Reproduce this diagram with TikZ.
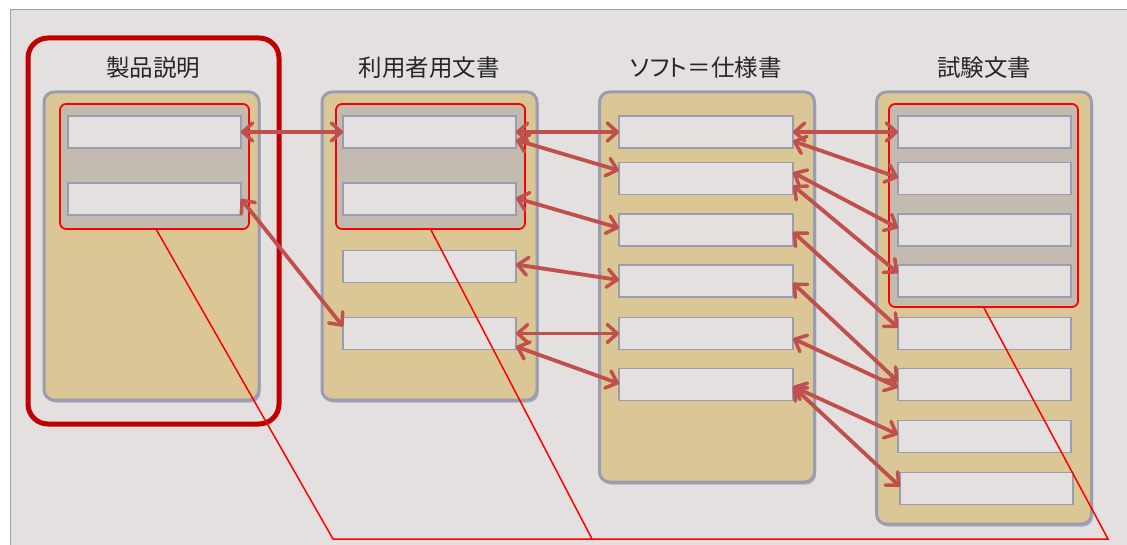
\documentclass[tikz,border=0pt]{standalone}
\usepackage{fontspec}
\newfontfamily\jp{Noto Sans CJK JP}
\newfontfamily\jpp[RawFeature=+palt]{Noto Sans CJK JP}
\usetikzlibrary{arrows.meta}
\definecolor{bg}{HTML}{E4E0DF}
\definecolor{frameg}{HTML}{A0A0A0}
\definecolor{tanc}{HTML}{DBC795}
\definecolor{pborder}{HTML}{9A9CB0}
\definecolor{grpc}{HTML}{C3BAB0}
\definecolor{darkred}{HTML}{C00000}
\definecolor{arr}{HTML}{C0504D}
\definecolor{txt}{HTML}{262626}
\begin{document}
\begin{tikzpicture}[x=1pt,y=-1pt,
 panel/.style={draw=pborder, line width=3pt, fill=tanc, rounded corners=10pt, inner sep=0pt, outer sep=0pt, minimum width=215pt},
 pshadow/.style={fill=pborder!85, rounded corners=10pt, inner sep=0pt, outer sep=0pt, minimum width=215pt, xshift=1.5pt, yshift=-2.5pt},
 grpbox/.style={draw=red, line width=1.8pt, fill=grpc, rounded corners=6pt, inner sep=0pt, outer sep=0pt, minimum width=189pt},
 item/.style={draw=pborder, line width=1.5pt, fill=bg, minimum width=173pt, minimum height=32pt, inner sep=0pt, outer sep=0pt},
 ttl/.style={text=txt, font=\jp\fontsize{23.5}{28}\selectfont, inner sep=0pt},
 link/.style={draw=arr, line width=3.8pt, {Straight Barb[length=10pt,width=18pt,line width=3.5pt,round]}-{Straight Barb[length=10pt,width=18pt,line width=3.5pt,round]}},
 redline/.style={draw=red, line width=1.5pt, line join=miter}]
\useasboundingbox (0,0) rectangle (1127,545);
% background frame
\fill[bg] (10,10) rectangle (1127,545);
\draw[frameg, line width=1pt] (10,545) -- (10,10) -- (1127,10);
% outer selection
\node[draw=darkred, line width=5pt, rounded corners=20pt, minimum width=251pt, minimum height=386pt, inner sep=0pt] (sel) at (153.5,231) {};
% titles
\node[ttl] (t1) at (153,68) {製品説明};
\node[ttl] (t2) at (429,68) {利用者用文書};
\node[ttl, font=\jpp\fontsize{23.5}{28}\selectfont] (t3) at (706,68) {ソフト＝仕様書};
\node[ttl] (t4) at (984,68) {試験文書};
% panel shadows
\node[pshadow, minimum height=308pt] (s1) at (151.5,246) {};
\node[pshadow, minimum height=308pt] (s2) at (429.5,246) {};
\node[pshadow, minimum height=390pt] (s3) at (707,287) {};
\node[pshadow, minimum height=432pt] (s4) at (984,308) {};
% panels
\node[panel, minimum height=308pt] (p1) at (151.5,246) {};
\node[panel, minimum height=308pt] (p2) at (429.5,246) {};
\node[panel, minimum height=390pt] (p3) at (707,287) {};
\node[panel, minimum height=432pt] (p4) at (984,308) {};
% groups
\node[grpbox, minimum height=125pt] (g1) at (154.5,166.5) {};
\node[grpbox, minimum height=125pt] (g2) at (430.5,166.5) {};
\node[grpbox, minimum height=203pt] (g4) at (983.5,205.5) {};
% items column 1
\node[item] (c1a) at (154.5,132) {};
\node[item] (c1b) at (154.5,199) {};
% items column 2
\node[item] (c2a) at (429.5,132) {};
\node[item] (c2b) at (429.5,199) {};
\node[item] (c2c) at (429.5,266.5) {};
\node[item] (c2d) at (429.5,333.5) {};
% items column 3
\node[item, minimum width=174pt] (c3a) at (706,132) {};
\node[item, minimum width=174pt] (c3b) at (706,178.5) {};
\node[item, minimum width=174pt] (c3c) at (706,230) {};
\node[item, minimum width=174pt] (c3d) at (706,281) {};
\node[item, minimum width=174pt] (c3e) at (706,333.5) {};
\node[item, minimum width=174pt] (c3f) at (706,384.5) {};
% items column 4
\node[item] (c4a) at (984.5,132) {};
\node[item] (c4b) at (984.5,178.5) {};
\node[item] (c4c) at (984.5,230) {};
\node[item] (c4d) at (984.5,281) {};
\node[item] (c4e) at (984.5,333.5) {};
\node[item] (c4f) at (984.5,384.5) {};
\node[item] (c4g) at (984.5,436.5) {};
\node[item] (c4h) at (986.5,488.5) {};
% arrows
\draw[link] (c1a.east) -- (c2a.west);
\draw[link] (c1b.east) -- ([yshift=7pt]c2d.west);
\draw[link] (c2a.east) -- (c3a.west);
\draw[link] ([yshift=-8pt]c2a.east) -- ([yshift=8pt]c3b.west);
\draw[link] ([yshift=1pt]c2b.east) -- ([yshift=2pt]c3c.west);
\draw[link] ([yshift=2pt]c2c.east) -- ([yshift=1pt]c3d.west);
\draw[link] (c2d.east) -- (c3e.west);
\draw[link] ([yshift=-13pt]c2d.east) -- ([yshift=1pt]c3f.west);
\draw[link] (c3a.east) -- (c4a.west);
\draw[link] ([yshift=-9pt]c3a.east) -- ([yshift=1pt]c4b.west);
\draw[link] ([yshift=6pt]c3b.east) -- ([yshift=2pt]c4c.west);
\draw[link] ([yshift=-7pt]c3b.east) -- ([yshift=8pt]c4d.west);
\draw[link] ([yshift=-2pt]c3c.east) -- ([yshift=6pt]c4e.west);
\draw[link] ([yshift=-2pt]c3d.east) -- ([yshift=3pt]c4f.west);
\draw[link] ([yshift=-5pt]c3e.east) -- ([yshift=-3pt]c4f.west);
\draw[link] ([yshift=-2pt]c3f.east) -- ([yshift=2pt]c4g.west);
\draw[link] ([yshift=-2pt]c3f.east) -- ([yshift=2pt]c4h.west);
% red lines
\coordinate (b1) at (333,539);
\coordinate (b2) at (592,539);
\coordinate (b3) at (1108,539);
\draw[redline] ([xshift=1.5pt]g1.south) -- (b1) -- (b3) -- (g4.south);
\draw[redline] (g2.south) -- (b2);
\end{tikzpicture}
\end{document}
